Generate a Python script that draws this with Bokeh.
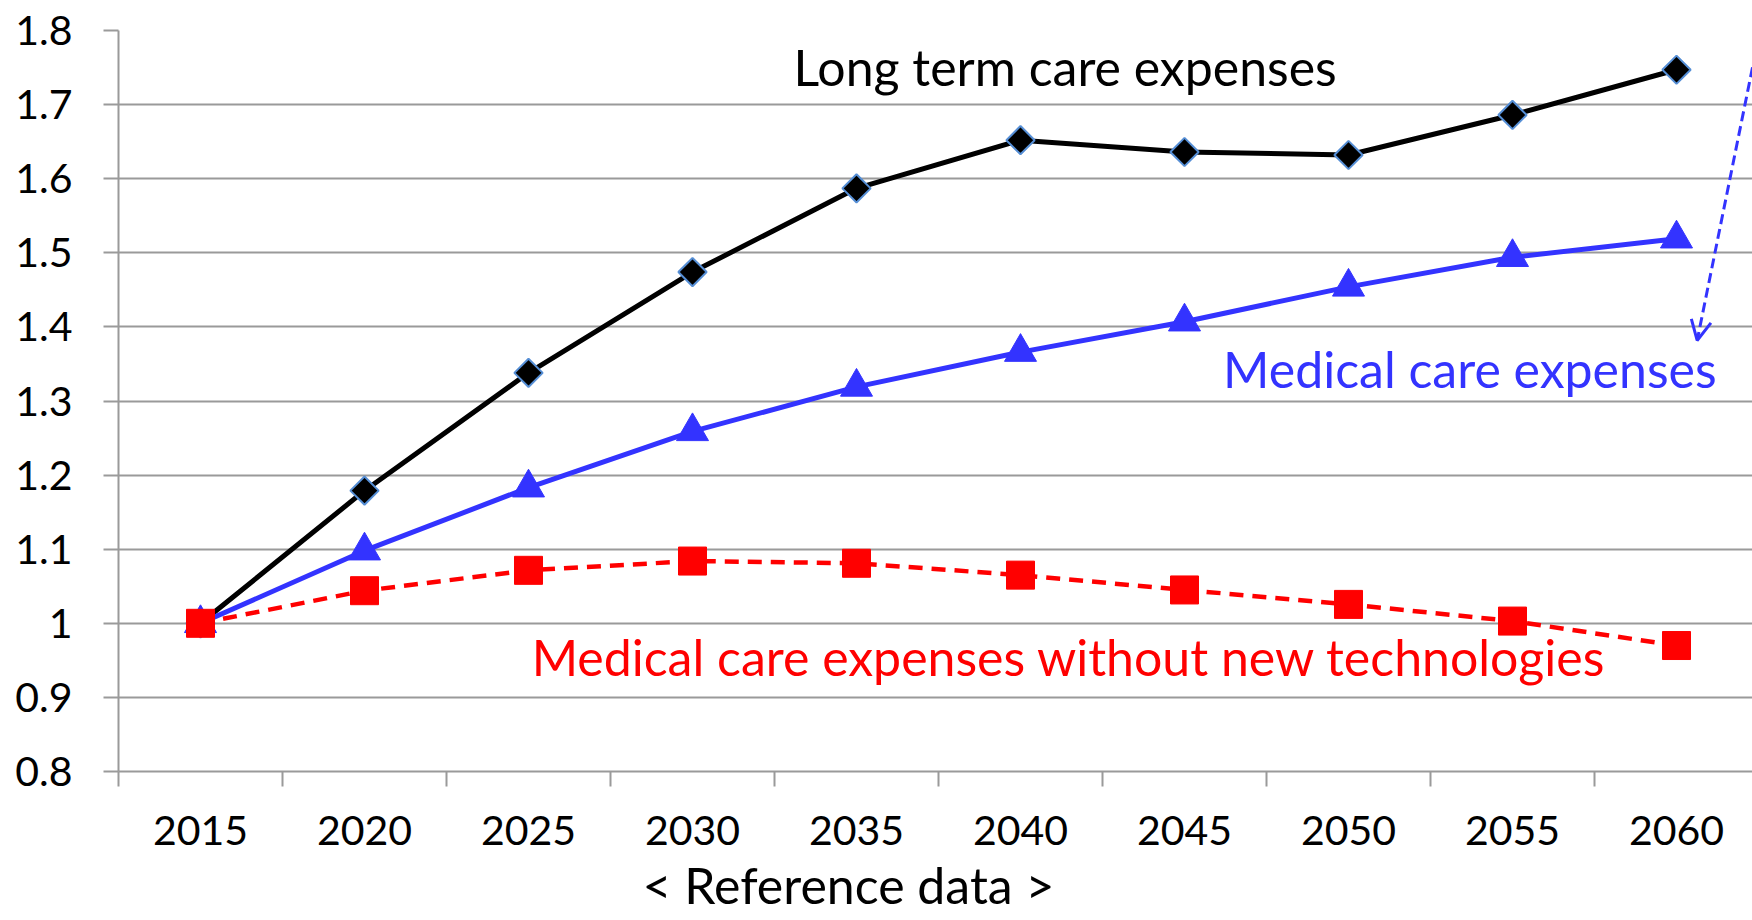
from bokeh.plotting import figure
from bokeh.models import Range1d, FixedTicker, Label, Arrow, OpenHead, Title
from bokeh.embed import file_html
from bokeh.resources import INLINE

# ---- data ----
years = [2015, 2020, 2025, 2030, 2035, 2040, 2045, 2050, 2055, 2060]
long_term_care = [1.0, 1.179, 1.338, 1.474, 1.587, 1.652, 1.636, 1.632, 1.686, 1.747]
medical_care = [1.0, 1.098, 1.183, 1.259, 1.319, 1.366, 1.407, 1.454, 1.494, 1.519]
medical_no_tech = [1.0, 1.044, 1.0715, 1.084, 1.081, 1.065, 1.045, 1.0255, 1.003, 0.970]
y_ticks = [0.8, 0.9, 1.0, 1.1, 1.2, 1.3, 1.4, 1.5, 1.6, 1.7, 1.8]
y_tick_labels = ["0.8", "0.9", "1", "1.1", "1.2", "1.3", "1.4", "1.5", "1.6", "1.7", "1.8"]
x_tick_labels = ["2015", "2020", "2025", "2030", "2035", "2040", "2045", "2050", "2055", "2060"]

FONT = "Lato"
TICK_SIZE = "41px"
ANN_SIZE = "50px"
GRAY = "#9a9a9a"
BLACK = "#000000"
BLUE = "#3333ff"
RED = "#ff0000"

p = figure(width=1752, height=920, output_backend="svg", toolbar_location=None,
           x_range=Range1d(2012.5, 2062.317), y_range=Range1d(0.8, 1.8),
           min_border_left=118, min_border_right=0, min_border_top=30, min_border_bottom=149)
p.outline_line_color = None
p.background_fill_color = "white"
p.border_fill_color = "white"
p.xgrid.visible = False
p.ygrid.grid_line_color = GRAY
p.ygrid.grid_line_width = 2
p.ygrid.ticker = FixedTicker(ticks=y_ticks)

# x axis: labels at category centres, tick marks between categories
xa = p.xaxis[0]
xa.ticker = FixedTicker(ticks=years, minor_ticks=[y - 2.5 for y in years] + [years[-1] + 2.5])
xa.major_label_overrides = {y: lab for y, lab in zip(years, x_tick_labels)}
xa.major_tick_out = 0
xa.major_tick_in = 0
xa.major_tick_line_color = None
xa.minor_tick_out = 15
xa.minor_tick_in = 0
xa.minor_tick_line_color = GRAY
xa.minor_tick_line_width = 2
xa.axis_line_color = GRAY
xa.axis_line_width = 2
xa.major_label_standoff = 29
xa.major_label_text_font = FONT
xa.major_label_text_font_size = TICK_SIZE
xa.major_label_text_color = BLACK

ya = p.yaxis[0]
ya.ticker = FixedTicker(ticks=y_ticks, minor_ticks=[])
ya.major_label_overrides = {t: lab for t, lab in zip(y_ticks, y_tick_labels)}
ya.major_tick_out = 15
ya.major_tick_in = 0
ya.major_tick_line_color = GRAY
ya.major_tick_line_width = 2
ya.minor_tick_line_color = None
ya.axis_line_color = GRAY
ya.axis_line_width = 2
ya.major_label_standoff = 31
ya.major_label_text_font = FONT
ya.major_label_text_font_size = TICK_SIZE
ya.major_label_text_color = BLACK

# series
p.line(years, long_term_care, line_color=BLACK, line_width=5)
p.scatter(years, long_term_care, marker="square", size=20, angle=0.785398,
          fill_color=BLACK, line_color="#558ed5", line_width=2)

p.line(years, medical_care, line_color=BLUE, line_width=5)
p.scatter(years, medical_care, marker="triangle", size=32,
          fill_color=BLUE, line_color=BLUE, line_width=1)

p.line(years, medical_no_tech, line_color=RED, line_width=4.5, line_dash="14 9")
p.scatter(years, medical_no_tech, marker="square", size=28,
          fill_color=RED, line_color=RED, line_width=1)

# annotations
p.add_layout(Label(x=2041.36, y=1.7513, text="Long term care expenses", text_align="center",
                   text_baseline="alphabetic", text_font=FONT, text_font_size=ANN_SIZE,
                   text_color=BLACK))
p.add_layout(Label(x=2053.70, y=1.3437, text="Medical care expenses", text_align="center",
                   text_baseline="alphabetic", text_font=FONT, text_font_size=ANN_SIZE,
                   text_color=BLUE))
p.add_layout(Label(x=2041.48, y=0.9549, text="Medical care expenses without new technologies",
                   text_align="center", text_baseline="alphabetic", text_font=FONT,
                   text_font_size=ANN_SIZE, text_color=RED))
p.add_layout(Arrow(x_start=2062.5, y_start=1.79, x_end=2060.63, y_end=1.3817,
                   line_color=BLUE, line_width=3, line_dash="10 5",
                   end=OpenHead(size=20, line_color=BLUE, line_width=3)))
p.add_layout(Title(text="< Reference data >", align="left", offset=524, standoff=10,
                   text_font=FONT, text_font_size=ANN_SIZE, text_font_style="normal",
                   text_color=BLACK), "below")

open("out.html", "w").write(file_html(p, INLINE))
